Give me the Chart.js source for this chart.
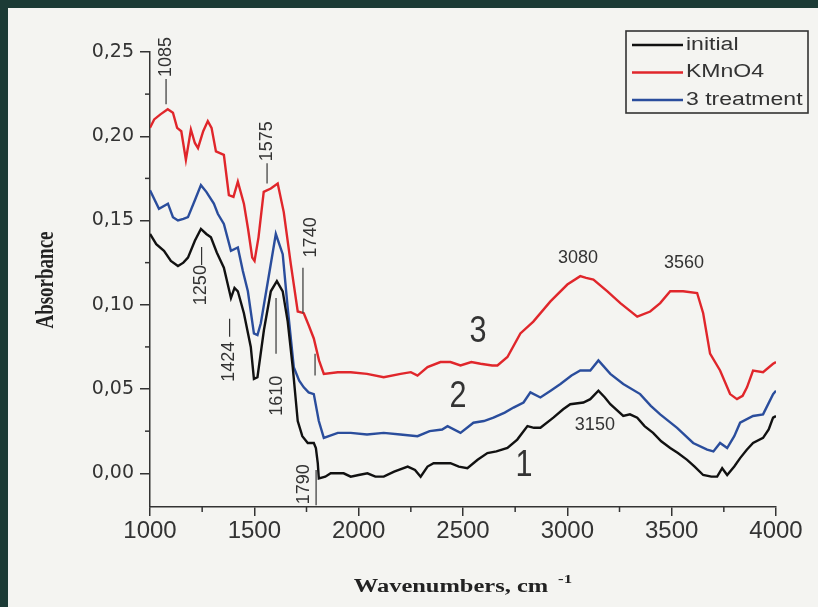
<!DOCTYPE html>
<html><head><meta charset="utf-8">
<script src="https://cdn.jsdelivr.net/npm/chart.js@4.4.1/dist/chart.umd.min.js"></script>
<style>html,body{margin:0;padding:0;background:#f4f4f1;overflow:hidden}</style>
</head><body>
<canvas id="c" width="818" height="607"></canvas>
<script>
// ---- data ----
const seriesLabels = ['initial', 'KMnO4', '3 treatment'];

const initialWn  = [1000,1030,1067,1100,1134,1160,1182,1215,1244,1270,1292,1320,1354,1388,1405,1421,1450,1483,1498,1515,1546,1579,1608,1636,1660,1684,1708,1730,1756,1785,1795,1804,1809,1840,1866,1928,1962,2000,2042,2080,2120,2170,2235,2270,2297,2330,2359,2400,2440,2480,2521,2570,2617,2660,2713,2760,2809,2840,2871,2933,2980,3014,3077,3110,3149,3180,3206,3268,3300,3335,3370,3411,3450,3493,3530,3574,3610,3651,3690,3718,3742,3766,3800,3828,3860,3890,3938,3965,3986,4000];
const initialAbs = [0.142,0.136,0.132,0.126,0.123,0.125,0.128,0.138,0.145,0.142,0.140,0.131,0.122,0.104,0.110,0.108,0.095,0.075,0.056,0.057,0.085,0.108,0.114,0.108,0.090,0.063,0.031,0.022,0.018,0.018,0.015,0.006,-0.003,-0.002,0.000,0.000,-0.002,-0.001,0.000,-0.002,-0.002,0.001,0.004,0.002,-0.002,0.004,0.006,0.006,0.006,0.004,0.003,0.008,0.012,0.013,0.015,0.020,0.028,0.027,0.027,0.033,0.038,0.041,0.042,0.044,0.049,0.045,0.041,0.034,0.035,0.033,0.028,0.024,0.019,0.015,0.012,0.008,0.004,-0.001,-0.002,-0.002,0.003,-0.001,0.004,0.009,0.014,0.018,0.021,0.026,0.033,0.034];

const kmno4Wn  = [1000,1020,1050,1085,1110,1130,1150,1172,1196,1215,1230,1255,1277,1295,1316,1354,1378,1400,1421,1450,1470,1490,1501,1520,1545,1579,1612,1641,1675,1708,1737,1760,1785,1810,1833,1900,1962,2040,2120,2201,2250,2282,2330,2392,2440,2488,2540,2584,2640,2665,2713,2775,2837,2919,3000,3062,3090,3125,3192,3254,3335,3397,3445,3493,3555,3622,3651,3684,3732,3780,3813,3840,3861,3890,3938,3986,4000];
const kmno4Abs = [0.205,0.210,0.213,0.216,0.214,0.205,0.203,0.186,0.204,0.196,0.193,0.203,0.209,0.205,0.191,0.189,0.165,0.164,0.173,0.160,0.145,0.128,0.126,0.140,0.167,0.169,0.172,0.155,0.124,0.096,0.095,0.088,0.080,0.067,0.059,0.060,0.060,0.059,0.057,0.059,0.060,0.058,0.063,0.066,0.066,0.064,0.066,0.065,0.064,0.064,0.069,0.083,0.090,0.102,0.112,0.117,0.116,0.115,0.108,0.101,0.093,0.096,0.101,0.108,0.108,0.107,0.095,0.071,0.061,0.047,0.044,0.046,0.051,0.061,0.060,0.065,0.066];

const treat3Wn  = [1000,1043,1086,1110,1134,1160,1182,1215,1244,1270,1306,1325,1354,1388,1421,1445,1469,1498,1515,1531,1565,1603,1636,1660,1689,1715,1737,1760,1785,1809,1833,1900,1962,2040,2120,2200,2282,2340,2400,2426,2488,2550,2600,2646,2700,2742,2790,2823,2871,2920,2967,3020,3062,3110,3149,3206,3268,3349,3400,3445,3526,3603,3670,3700,3732,3766,3800,3828,3890,3938,3986,4000];
const treat3Abs = [0.168,0.157,0.160,0.152,0.150,0.151,0.152,0.162,0.171,0.167,0.160,0.154,0.148,0.132,0.134,0.120,0.108,0.083,0.082,0.089,0.114,0.142,0.130,0.098,0.063,0.055,0.051,0.048,0.047,0.031,0.021,0.024,0.024,0.023,0.024,0.023,0.022,0.025,0.026,0.028,0.024,0.030,0.031,0.033,0.036,0.039,0.042,0.048,0.045,0.049,0.053,0.058,0.061,0.061,0.067,0.059,0.053,0.047,0.040,0.035,0.027,0.018,0.014,0.013,0.018,0.015,0.022,0.030,0.034,0.035,0.047,0.049];

const xTicks = [1000,1500,2000,2500,3000,3500,4000];
const xMinorTicks = [1250,1750,2250,2750,3250,3750];
const yTicks = [0,0.05,0.10,0.15,0.20,0.25];
const yMinorTicks = [0.025,0.075,0.125,0.175,0.225];

// peak annotations (anchored in data units)
const rotatedLabels = [
  {text:'1085',   wn:1077, a:0.247},
  {text:'1575',   wn:1561, a:0.197},
  {text:'1250\u2014', wn:1244, a:0.117},
  {text:'1424 \u2014', wn:1381, a:0.073},
  {text:'1740',   wn:1772, a:0.140},
  {text:'1610',   wn:1609, a:0.046},
  {text:'1790',   wn:1740, a:-0.0065}
];
const markerLines = [
  {wn:1077, a1:0.234, a2:0.219},
  {wn:1561, a1:0.184, a2:0.172},
  {wn:1733, a1:0.122, a2:0.095},
  {wn:1791, a1:0.071, a2:0.058},
  {wn:1604, a1:0.104, a2:0.071},
  {wn:1796, a1:0.002, a2:-0.019}
];
const flatLabels = [
  {text:'3080', wn:3051, a:0.128, size:18},
  {text:'3560', wn:3559, a:0.125, size:18},
  {text:'3150', wn:3132, a:0.0285, size:18},
  {text:'3', wn:2572, a:0.084, size:36},
  {text:'2', wn:2476, a:0.045, size:36},
  {text:'1', wn:2792, a:0.004, size:36}
];

const colors = ['#111111', '#e0262b', '#2a4d9c'];
const pts = (xs, ys) => xs.map((x, i) => ({x, y: ys[i]}));

const TXT = '#333333';
const SANS = "'Liberation Sans', Arial, sans-serif";
const SERIF = "'Liberation Serif', 'Times New Roman', serif";

function sText(ctx, text, x, y, sx, align) {
  ctx.save(); ctx.translate(x, y); ctx.scale(sx, 1);
  ctx.textAlign = align; ctx.fillText(text, 0, 0); ctx.restore();
}

const decor = {
  id: 'decor',
  beforeDraw(chart) {
    const ctx = chart.ctx, W = chart.width, H = chart.height;
    ctx.save();
    ctx.fillStyle = '#1c3b36'; ctx.fillRect(0, 0, W, H);
    ctx.fillStyle = '#f4f4f1'; ctx.fillRect(8, 8, W - 8, H - 8);
    ctx.restore();
  },
  afterDraw(chart) {
    const ctx = chart.ctx, xs = chart.scales.x, ys = chart.scales.y;
    const ca = chart.chartArea;
    ctx.save();
    // minor ticks
    ctx.strokeStyle = '#333'; ctx.lineWidth = 1.5;
    xMinorTicks.forEach(v => { const px = xs.getPixelForValue(v);
      ctx.beginPath(); ctx.moveTo(px, ca.bottom); ctx.lineTo(px, ca.bottom + 5); ctx.stroke(); });
    yMinorTicks.forEach(v => { const py = ys.getPixelForValue(v);
      ctx.beginPath(); ctx.moveTo(ca.left, py); ctx.lineTo(ca.left - 5, py); ctx.stroke(); });
    // marker lines
    ctx.strokeStyle = '#444'; ctx.lineWidth = 1.3;
    markerLines.forEach(m => { const px = xs.getPixelForValue(m.wn);
      ctx.beginPath(); ctx.moveTo(px, ys.getPixelForValue(m.a1)); ctx.lineTo(px, ys.getPixelForValue(m.a2)); ctx.stroke(); });
    // rotated labels
    ctx.fillStyle = TXT; ctx.font = '18px ' + SANS; ctx.textBaseline = 'middle';
    rotatedLabels.forEach(l => {
      ctx.save(); ctx.translate(xs.getPixelForValue(l.wn), ys.getPixelForValue(l.a));
      ctx.rotate(-Math.PI / 2); ctx.textAlign = 'center'; ctx.fillText(l.text, 0, 0); ctx.restore();
    });
    // flat labels
    flatLabels.forEach(l => {
      ctx.font = l.size + 'px ' + SANS; ctx.textAlign = 'center';
      sText(ctx, l.text, xs.getPixelForValue(l.wn), ys.getPixelForValue(l.a), l.size > 20 ? 0.85 : 1, 'center');
    });
    // legend box
    const bx = 626, by = 31, bw = 182, bh = 82;
    ctx.strokeStyle = '#333'; ctx.lineWidth = 1.6; ctx.strokeRect(bx, by, bw, bh);
    chart.data.datasets.forEach((ds, i) => {
      const cy = by + 14 + i * 27.5;
      ctx.strokeStyle = ds.borderColor; ctx.lineWidth = 2.6;
      ctx.beginPath(); ctx.moveTo(bx + 6, cy); ctx.lineTo(bx + 57, cy); ctx.stroke();
      ctx.fillStyle = TXT; ctx.font = '18px ' + SANS; ctx.textBaseline = 'middle';
      sText(ctx, ds.label, bx + 60, cy, 1.28, 'left');
    });
    // axis titles
    ctx.fillStyle = '#222'; ctx.textBaseline = 'alphabetic';
    ctx.font = 'bold 18px ' + SERIF;
    sText(ctx, 'Wavenumbers, cm', 451, 592, 1.36, 'center');
    ctx.font = 'bold 13px ' + SERIF;
    sText(ctx, '-1', 558, 583, 1.3, 'left');
    ctx.save(); ctx.translate(46, 280); ctx.rotate(-Math.PI / 2); ctx.scale(1, 1.35);
    ctx.font = 'bold 19px ' + SERIF; ctx.textAlign = 'center'; ctx.textBaseline = 'middle';
    ctx.fillText('Absorbance', 0, 0); ctx.restore();
    ctx.restore();
  }
};

new Chart(document.getElementById('c'), {
  type: 'line',
  data: {
    datasets: [
      {label: seriesLabels[0], data: pts(initialWn, initialAbs), borderColor: colors[0]},
      {label: seriesLabels[1], data: pts(kmno4Wn, kmno4Abs), borderColor: colors[1]},
      {label: seriesLabels[2], data: pts(treat3Wn, treat3Abs), borderColor: colors[2]}
    ].map(d => Object.assign(d, {borderWidth: 2.4, pointRadius: 0, tension: 0, fill: false}))
  },
  options: {
    responsive: false, animation: false, devicePixelRatio: 1,
    layout: {padding: {left: 0, top: 52, right: 42, bottom: 0}},
    plugins: {legend: {display: false}, tooltip: {enabled: false}},
    scales: {
      x: {
        type: 'linear', min: 1000, max: 4000,
        afterBuildTicks: s => { s.ticks = xTicks.map(v => ({value: v})); },
        afterFit: s => { s.height = 100; },
        ticks: {autoSkip: false, maxRotation: 0, padding: 1, color: TXT, callback: v => String(v),
                font: {family: "'Liberation Sans Narrow', 'Liberation Sans', sans-serif", size: 24}},
        grid: {drawOnChartArea: false, drawTicks: true, tickLength: 9, color: '#333', lineWidth: 1.5},
        border: {color: '#333', width: 1.5}
      },
      y: {
        min: -0.02, max: 0.25,
        afterBuildTicks: s => { s.ticks = yTicks.map(v => ({value: v})); },
        afterFit: s => { s.width = 150; },
        ticks: {padding: 6, color: TXT, callback: v => v.toFixed(2).replace('.', ','),
                font: {family: "'DejaVu Sans', sans-serif", size: 19}},
        grid: {drawOnChartArea: false, drawTicks: true, tickLength: 10, color: '#333', lineWidth: 1.5},
        border: {color: '#333', width: 1.5}
      }
    }
  },
  plugins: [decor]
});
</script>
</body></html>
